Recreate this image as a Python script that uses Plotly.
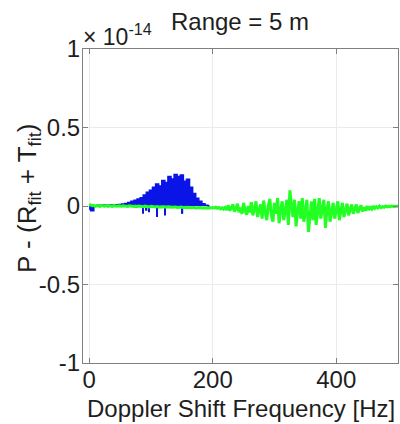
import plotly.graph_objects as go

# Values in units of 1e-14
blue_freq = [0, 5, 10, 15, 20, 25, 30, 35, 40, 45, 50, 55, 60, 65, 70, 75, 80, 85, 90, 95,
             100, 105, 110, 115, 120, 125, 130, 135, 140, 145, 150, 155, 160, 165, 170, 175,
             180, 185, 190, 195]
blue_vals = [-0.02, -0.03, 0.0, 0.005, 0.004, 0.006, 0.005, 0.006, 0.007, 0.008, 0.009, 0.012,
             0.016, 0.022, 0.03, 0.036, 0.045, 0.052, 0.07, 0.088, 0.1, 0.12, 0.14, 0.128,
             0.162, 0.15, 0.188, 0.172, 0.2, 0.188, 0.198, 0.158, 0.17, 0.12, 0.08, 0.05,
             0.03, 0.015, 0.005, 0.0]

spike_freq = [87, 93, 97, 110, 123, 151]
spike_vals = [-0.05, -0.03, -0.04, -0.07, -0.06, -0.05]

# green series sampled every 2.5 Hz from 0 to 500 Hz
green_step = 2.5
green_vals = [
    0.01, 0.006, 0.002, 0.004, -0.002, 0.003, 0.0, -0.002, 0.003, 0.001,
    -0.001, 0.002, -0.002, 0.001, 0.0, -0.003, 0.002, 0.0, -0.002, 0.001,
    0.0, -0.002, 0.002, -0.001, 0.0, -0.003, 0.001, -0.002, 0.0, -0.003,
    -0.001, -0.004, 0.0, -0.003, -0.002, -0.005, -0.001, -0.004, -0.003, -0.006,
    -0.002, -0.005, -0.004, -0.006, -0.003, -0.007, -0.005, -0.008, -0.004, -0.007,
    -0.006, -0.009, -0.005, -0.008, -0.007, -0.01, -0.006, -0.009, -0.008, -0.011,
    -0.007, -0.01, -0.009, -0.012, -0.008, -0.011, -0.01, -0.013, -0.009, -0.012,
    -0.011, -0.014, -0.01, -0.013, -0.012, -0.015, -0.011, -0.014, -0.012, -0.013,
    -0.01, -0.012, -0.008, -0.015, -0.01, -0.018, -0.012, -0.02, -0.01, -0.025,
    0.005, -0.03, -0.015, 0.01, -0.035, -0.02, 0.015, -0.04, -0.01, -0.05,
    0.02, -0.03, -0.055, 0.0, -0.04, 0.025, -0.06, -0.02, 0.03, -0.07,
    -0.03, 0.01, -0.08, 0.035, -0.04, -0.09, 0.0, 0.045, -0.06, -0.1,
    0.02, -0.05, 0.05, -0.11, -0.03, 0.03, -0.09, -0.02, 0.04, -0.12,
    0.1, 0.0, -0.07, 0.04, -0.13, -0.03, 0.03, -0.08, 0.05, -0.1,
    -0.02, 0.04, -0.165, -0.04, 0.03, -0.09, 0.045, -0.12, -0.02, 0.05,
    -0.08, -0.03, 0.04, -0.14, -0.02, 0.03, -0.1, -0.04, 0.02, -0.08,
    -0.01, 0.03, -0.09, -0.03, 0.02, -0.07, -0.02, 0.015, -0.06, -0.02,
    0.01, -0.05, -0.015, 0.01, -0.045, -0.02, 0.005, -0.035, -0.01, -0.03,
    0.0, -0.025, -0.01, -0.02, 0.0, -0.015, -0.005, -0.012, 0.0, -0.01,
    -0.004, -0.008, 0.0, -0.006, -0.002, -0.004, 0.0, -0.003, 0.0, -0.001,
    0.0,
]
green_freq = [i * green_step for i in range(len(green_vals))]

x_ticks = [0, 200, 400]
y_ticks = [-1, -0.5, 0, 0.5, 1]
y_ticklabels = ["-1", "-0.5", "0", "0.5", "1"]

BLUE = "#0a14e6"
GREEN = "#22ff22"
FONT = "Liberation Sans, Arial, sans-serif"
TXT = "#1e1e1e"

fig = go.Figure()
fig.add_trace(go.Scatter(x=blue_freq, y=blue_vals, mode="lines", line=dict(color=BLUE, width=1.5),
                         fill="tozeroy", fillcolor=BLUE, line_shape="hvh"))
fig.add_trace(go.Bar(x=spike_freq, y=spike_vals, width=2.5, marker=dict(color=BLUE, line=dict(width=0))))
fig.add_trace(go.Scatter(x=green_freq, y=green_vals, mode="lines", line=dict(color=GREEN, width=3)))

axis_common = dict(showline=True, linecolor="#808080", linewidth=1, mirror="ticks",
                   ticks="inside", ticklen=5, tickcolor="#808080",
                   showgrid=True, gridcolor="#ebebeb", gridwidth=1, zeroline=False,
                   tickfont=dict(family=FONT, size=24, color=TXT))

fig.update_layout(
    width=400, height=424,
    margin=dict(l=83, r=2, t=49, b=61),
    paper_bgcolor="white", plot_bgcolor="white",
    showlegend=False,
    font=dict(family=FONT, color=TXT),
    title=dict(text="Range = 5 m", x=0.6, xanchor="center", yref="container", y=0.95,
               yanchor="middle", font=dict(family=FONT, size=24, color=TXT)),
    xaxis=dict(range=[-10, 500], tickvals=x_ticks, ticklabelstandoff=-5, **axis_common),
    yaxis=dict(range=[-1, 1], tickvals=y_ticks, ticktext=y_ticklabels, ticklabelstandoff=-3,
               **axis_common),
    annotations=[
        dict(text="× 10<sup>-14</sup>", xref="paper", yref="paper", x=0, y=1,
             xanchor="left", yanchor="bottom", showarrow=False, yshift=-3, xshift=-2,
             font=dict(family=FONT, size=23, color=TXT)),
        dict(text="Doppler Shift Frequency [Hz]", xref="paper", yref="paper", x=0.5, y=0,
             xanchor="center", yanchor="middle", showarrow=False, yshift=-45,
             font=dict(family=FONT, size=24, color=TXT)),
        dict(text="P - (R<sub>fit</sub> + T<sub>fit</sub>)", xref="paper", yref="paper",
             x=0, y=0.5, xanchor="center", yanchor="middle", showarrow=False,
             textangle=-90, xshift=-55, yshift=7,
             font=dict(family=FONT, size=26, color=TXT)),
    ],
)

fig.write_html("out.html")
